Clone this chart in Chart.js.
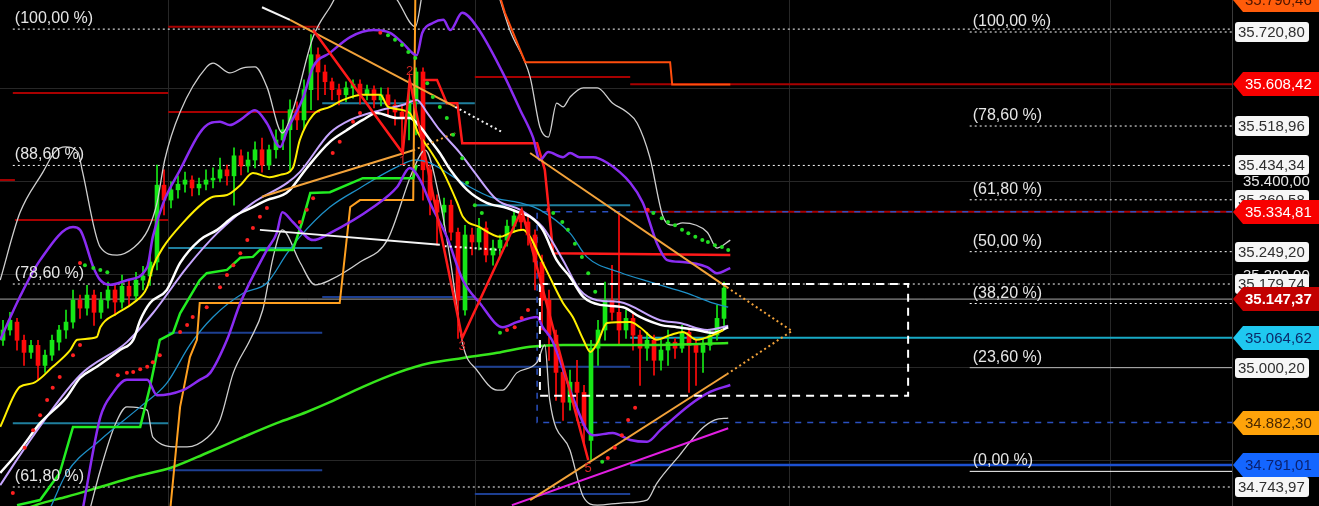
<!DOCTYPE html>
<html><head><meta charset="utf-8">
<script src="https://cdn.jsdelivr.net/npm/chart.js@4.4.1/dist/chart.umd.min.js"></script>
<style>html,body{margin:0;padding:0;background:#000;overflow:hidden}canvas{display:block}</style>
</head><body>
<canvas id="c" width="1319" height="506" style="width:1319px;height:506px"></canvas>
<script>
// ---------- candles ----------
const open = [35059,35081,35098,35059,35033,35048,35005,35027,35055,35081,
35098,35145,35128,35156,35119,35145,35167,35141,35175,35154,
35188,35197,35227,35392,35360,35382,35394,35403,35386,35394,
35403,35407,35425,35412,35455,35433,35446,35468,35435,35468,
35489,35511,35554,35532,35597,35672,35635,35614,35597,35586,
35601,35609,35586,35597,35575,35586,35564,35549,35536,35575,
35635,35425,35360,35334,35349,35291,35124,35285,35270,35300,
35242,35257,35274,35304,35326,35313,35285,35227,35145,35070,
34990,34926,34969,34947,34844,35042,35081,35145,35119,35081,
35106,35070,35042,35059,35016,35038,35055,35042,35076,35048,
35033,35048,35070,35106];
const high = [35102,35119,35106,35070,35059,35059,35038,35070,35091,35124,
35167,35156,35177,35167,35162,35184,35177,35199,35188,35205,
35218,35242,35435,35425,35399,35412,35420,35412,35407,35425,
35429,35450,35435,35472,35468,35463,35485,35493,35478,35511,
35532,35575,35571,35618,35715,35687,35650,35622,35609,35614,
35618,35618,35607,35605,35601,35601,35575,35566,35618,35644,
35644,35435,35371,35364,35360,35300,35306,35300,35321,35313,
35274,35285,35317,35339,35339,35328,35296,35242,35167,35081,
35005,34995,35016,34962,35059,35102,35184,35220,35332,35124,
35119,35081,35076,35070,35059,35081,35063,35091,35085,35059,
35063,35081,35134,35184];
const low = [35048,35070,35038,35005,35020,34973,34990,35016,35038,35063,
35085,35106,35113,35091,35106,35128,35113,35128,35134,35145,
35167,35177,35210,35328,35343,35364,35377,35369,35371,35382,
35386,35399,35392,35349,35414,35420,35429,35420,35425,35450,
35468,35425,35511,35511,35554,35575,35586,35575,35564,35571,
35579,35566,35575,35558,35562,35543,35521,35461,35489,35500,
35360,35328,35263,35306,35274,35063,35113,35242,35253,35227,
35220,35242,35261,35291,35296,35263,35167,35081,35016,34930,
34887,34909,34887,34833,34802,35005,35059,35102,35048,35063,
35038,34962,35016,34984,34995,35005,35020,35033,34947,34962,
34990,35038,35059,35091];
const close = [35081,35102,35059,35033,35048,35005,35027,35059,35081,35098,
35145,35128,35156,35119,35145,35167,35141,35175,35154,35188,
35197,35227,35392,35360,35382,35394,35403,35386,35394,35403,
35407,35425,35412,35455,35433,35446,35468,35435,35468,35489,
35511,35554,35532,35597,35672,35635,35614,35597,35586,35601,
35609,35586,35597,35575,35586,35564,35549,35536,35575,35635,
35425,35360,35334,35349,35291,35145,35285,35270,35300,35242,
35257,35274,35304,35326,35313,35285,35227,35145,35070,34990,
34926,34969,34947,34876,35042,35081,35145,35119,35081,35106,
35070,35042,35059,35016,35038,35055,35042,35076,35048,35033,
35048,35070,35106,35171];

// ---------- indicator lines (x = bar index, y = price) ----------
const bbUpX = [-0.4,2.4,5.7,7.4,8.9,10.7,11.3,13.9,16.3,18.6,20.7,22,23.1,25.3,29.1,30,32.4,34.3,36,37.7,39.9,41.4,44.3,46.7,48.9,54.6,56.3,58.9,60.3,70.3,71,72.4,75.3,76.7,77.9,79.1,80,81,82.9,84.9,87.1,89.1,90.6,92.4,94.3,95.7,97.1,100.6,102,103.9];
const bbUpY = [35188,35332,35420,35463,35474,35463,35425,35259,35242,35257,35296,35354,35446,35549,35646,35654,35633,35644,35646,35603,35504,35553,35710,35774,35822,35822,35790,35732,35822,35822,35790,35725,35624,35517,35495,35568,35560,35581,35601,35601,35568,35549,35525,35452,35324,35306,35311,35291,35257,35274];
const bbLoX = [12.4,13.9,16,17.7,20.6,21.4,24.9,26.3,29.1,31,32.9,35.3,37.1,38.6,39.9,42.4,44.6,46.7,51,54.9,58.6,60.3,62.4,63.9,65.7,67.7,70.6,71.4,73.4,76.3,77.4,78.1,81,82.9,84.9,88.6,92,93.4,96.7,99.6,101.7,103.6];
const bbLoY = [34695,34780,34877,34916,34909,34851,34830,34830,34849,34888,34989,35060,35124,35238,35296,35227,35178,35188,35227,35274,35425,35467,35360,35231,35049,34995,34952,34952,34989,35012,35049,34931,34823,34723,34705,34710,34716,34752,34813,34866,34888,34892];
const purpUpX = [-0.4,2.4,5.3,10,11,12.9,13.9,15.3,17.7,20.6,21.4,22.9,25.3,28.1,29.6,31,32.4,33.9,36,37.7,39.6,40.6,42.9,44.3,46.7,49.6,52.9,55.3,57.1,59.1,59.9,61.4,62.9,63.9,65.6,67.7,71.4,73.9,75.7,76.7,77.9,80,81,82.4,84.3,86.3,89.6,91.4,93.4,94.9,97.1,100.6,102,103.9];
const purpUpY = [35060,35152,35231,35302,35296,35216,35188,35178,35188,35216,35281,35354,35425,35504,35525,35528,35521,35532,35553,35525,35474,35510,35581,35646,35676,35710,35725,35719,35697,35671,35719,35740,35747,35725,35762,35732,35633,35553,35495,35446,35463,35452,35461,35452,35452,35440,35397,35354,35268,35231,35227,35216,35203,35214];
const purpLoX = [11.4,13.9,15.7,17.7,20.6,22,25.7,28.1,29.6,32,33.9,37.7,39.1,39.9,41.4,44.3,46.7,52.9,56.3,58.1,59.6,61,63.4,65.7,68.1,71.4,73.4,76.3,77.1,78.4,81.4,83.4,84.3,87.1,89.6,92,93.9,98.1,101,103.9];
const purpLoY = [34697,34894,34946,34974,34974,34941,34952,34974,34989,35060,35139,35253,35289,35334,35313,35274,35289,35345,35388,35429,35403,35354,35281,35188,35139,35087,35098,35109,35087,35060,34937,34866,34855,34860,34845,34841,34866,34920,34948,34963];
const yellowX = [-0.4,2.4,4.3,7.1,9.6,10.6,13.4,13.9,16.3,18.6,20.6,21.4,22.9,25.7,28.6,30,32,33.9,35.7,38.1,39.6,41.4,42.4,44.3,46.7,48.6,51.4,53.9,55,58.1,59.3,61,62.9,64.9,65.7,68.1,71,72.4,74.3,75.3,76.7,78.1,80,81.4,82.9,83.9,84.9,86.3,89.6,91,93.4,95.3,97.1,99.1,101.4,102.9];
const yellowY = [34873,34959,34967,35002,35038,35060,35066,35087,35117,35139,35173,35216,35259,35311,35354,35367,35371,35392,35418,35409,35414,35429,35489,35543,35560,35575,35586,35586,35560,35547,35504,35467,35420,35354,35324,35302,35281,35289,35296,35281,35238,35195,35139,35109,35060,35034,35053,35096,35098,35087,35060,35070,35077,35060,35070,35081];
const whiteMaX = [-0.4,2.4,5.3,9.1,11,13.4,16.7,18.6,19.6,21,23.4,25.3,28.1,30.6,32.9,35.7,37.7,40,41,42.4,43.4,46.7,49.1,51.4,53.4,56.3,58.1,59.6,61,62.4,63.9,66.3,69.1,72,73.9,75.3,77.1,79.1,81,82.9,85.3,88.6,91,93.9,96.3,99.1,101.4,103.6];
const whiteMaY = [34774,34823,34881,34937,34978,35002,35038,35060,35102,35139,35167,35225,35274,35296,35324,35345,35360,35371,35382,35409,35429,35485,35510,35532,35547,35536,35536,35517,35489,35461,35425,35382,35354,35343,35332,35324,35296,35231,35195,35152,35135,35130,35109,35092,35087,35081,35075,35087];
const lilacX = [-0.4,3.4,11,17.7,21.4,26.3,30.6,35.7,40.6,42.4,46.7,49.6,53.9,57.1,59.1,60.6,62.4,65.3,67.1,70.6,73.9,77.1,80,82.4,84.9,88.1,93.9,96.7,100.6,103.6];
const lilacY = [34748,34834,34984,35055,35117,35216,35289,35354,35397,35420,35504,35532,35553,35564,35575,35547,35510,35461,35425,35360,35339,35302,35231,35167,35145,35141,35102,35096,35081,35090];
const thinBlueX = [6.7,9.1,13.9,19.6,23.4,26.7,30,34.3,37.7,40.6,42.4,46.7,51,56,58.9,61,63.9,66.7,69.6,73.9,76.7,81,83.4,88.1,92.9,97.7,101,103.6];
const thinBlueY = [34697,34774,34845,34916,34967,35049,35109,35160,35182,35246,35281,35345,35386,35429,35446,35440,35414,35388,35367,35354,35339,35289,35238,35205,35182,35160,35141,35130];
const greenStepX = [2,5.3,8.1,10,19.6,21,22.4,24.3,25.3,28.1,29.1,32,33.9,35.7,36.7,41.4,42.7,43.9,46.7,51.4,58.6,59.1];
const greenStepY = [34705,34716,34774,34873,34873,34959,35060,35075,35117,35188,35203,35210,35236,35238,35253,35253,35311,35375,35377,35407,35407,35435];
const longMaX = [3.1,5.7,9.1,13.9,18.6,24.3,29.1,34.3,39.1,43.4,46.7,51.4,56.3,61,65.7,70.6,75.3,80,93.9,103.6];
const longMaY = [34697,34710,34723,34744,34765,34787,34817,34851,34881,34905,34926,34959,34989,35010,35021,35032,35045,35049,35049,35053];
const orangeStepX = [23.9,25.3,26.7,27.7,28.1,48.1,49.6,51,58.6,58.9,59.1];
const orangeStepY = [34697,34916,35023,35060,35139,35139,35345,35360,35360,35790,35811];
const redOrangeStepX = [70.7,71.7,74.6,95.3,95.6,103.9];
const redOrangeStepY = [35811,35762,35656,35656,35608,35608];
const redStepX = [60,62,63.4,64.9,65.6,76.3,77.4,78.6,103.9];
const redStepY = [35618,35618,35568,35568,35482,35482,35425,35246,35242];
const zigzagX = [44.3,57.1,58.1,65.6,74.1,83.6];
const zigzagY = [35725,35461,35618,35064,35339,34802];
const zigzagTags = ['', '1', '2', '3', '', '5'];

// trend lines [x0, x1], [p0, p1]
const trendOrangeA = [[41, 64.6], [35747, 35560]];
const trendOrangeB = [[37, 58.6], [35367, 35467]];
const trendOrangeBExt = [[58.6, 64.6], [35467, 35504]];
const trendOrangeC = [[75.3, 103.4], [35461, 35173]];
const trendOrangeCExt = [[103.4, 112.7], [35173, 35079]];
const trendOrangeD = [[75.3, 103.4], [34716, 34986]];
const trendOrangeDExt = [[103.4, 112.7], [34986, 35079]];
const trendWhiteA = [[37, 41], [35774, 35747]];
const trendWhiteAExt = [[64.6, 71.3], [35560, 35506]];
const trendWhiteB = [[36.7, 62.4], [35296, 35264]];
const trendWhiteBExt = [[63.1, 71], [35261, 35253]];
const trendMagenta = [[72.7, 103.6], [34705, 34870]];

// parabolic SAR dots
const sarRedX = [1.4,3.1,4.3,5.3,6.3,7.1,8.1,10,11,11,16.4,17.7,18.6,19.6,20.6,21.4,22.4,25.3,26.3,27.1,29.1,31,32,32.9,33.9,34.9,35.7,36.7,37.7,42.4,43.4,44.3,47.1,48.1,50,51,53.9,72,73.1,74.1,75,77.9,86.4,87.4,88.4,89.3,90.3,92.1];
const sarRedY = [34731,34828,34866,34898,34931,34957,34980,35027,35049,35225,34984,34989,34991,34997,35002,35012,35027,35077,35092,35109,35130,35173,35199,35220,35246,35274,35300,35324,35343,35313,35339,35364,35461,35485,35528,35547,35719,35081,35087,35107,35124,35339,34806,34828,34855,34888,34914,35339];
const sarGreenX = [11.7,12.9,13.9,14.9,55,56,57,57.9,58.9,60.6,61.4,62.4,63.4,64.3,65.6,66.3,67.4,68.4,71,78.6,79.9,80.7,81.7,82.7,83.6,84.6,85.6,92.9,94.1,95,96,97,97.9,98.9,99.9,100.7,101.7,102.7,103.6];
const sarGreenY = [35220,35214,35210,35205,35714,35704,35693,35678,35665,35611,35581,35560,35536,35500,35450,35397,35349,35332,35075,35332,35313,35296,35266,35238,35203,35163,34798,35332,35321,35313,35306,35296,35289,35281,35274,35270,35263,35259,35253];

// horizontal levels: [price, fromBar, toBar]
const darkRedLevels = [[35732,23.6,45.3],[35590,1.4,23.6],[35549,23.6,45.3],[35317,1.7,23.6],[35403,-0.5,1.7],[35624,67.4,89.6],[35608.42,89.6,175.6],[35334.81,89.6,175.6]];
const tealLevels = [[35568,45.6,67.4],[35257,23.6,45.6],[34881,1.4,23.6],[35349,67.4,89.6]];
const cyanLevels = [[35064.62,89.6,175.6]];
const navyLevels = [[35075,23.6,45.6],[34780,23.6,45.6],[35152,45.6,67.4],[35002,67.4,89.6],[34729,67.4,89.6]];
const blueLevels = [[34791.01,89.6,175.6]];
const lastPrice = 35147.37;
const navyBoxX = [175.6, 76.3, 76.3, 175.6];
const navyBoxY = [35334.81, 35334.81, 34882.30, 34882.30];
const whiteBoxX = [76.7, 129.3, 129.3, 76.7, 76.7];
const whiteBoxY = [35180, 35180, 34940, 34940, 35180];

// Fibonacci
const fibLeftPct = ['100,00', '88,60', '78,60', '61,80'];
const fibLeftVal = [35727, 35434.34, 35179.74, 34743.97];
const fibLeftFrom = 1.4;
const fibRightPct = ['100,00', '78,60', '61,80', '50,00', '38,20', '23,60', '0,00'];
const fibRightVal = [35720.80, 35518.96, 35360.58, 35249.20, 35137.9, 35000.20, 34777.6];
const fibRightFrom = 138.1;
const chartEnd = 175.6;

// axis
const gridX = [23.6, 67.4, 112.3, 158.1];
const gridY = [34800, 35000, 35200, 35400, 35600];
const axisVals = [35790.46, 35720.80, 35608.42, 35518.96, 35434.34, 35400.00, 35360.58, 35334.81, 35249.20, 35200.00, 35179.74, 35147.37, 35064.62, 35000.20, 34882.30, 34791.01, 34743.97];
const axisKinds = ['orange','box','red','box','box','plain','box','red','box','plain','box','last','cyan','box','amber','blue','box'];

// ---------- build ----------
const GREEN = '#16e616', RED = '#ff0a0a';
const pts = (xs, ys) => xs.map((x, i) => ({ x, y: ys[i] }));
const datasets = [];
function addLine(data, color, width, order, extra) {
  datasets.push(Object.assign({ type: 'line', data, borderColor: color, backgroundColor: color,
    borderWidth: width, pointRadius: 0, pointHoverRadius: 0, fill: false, tension: 0, order }, extra || {}));
}
const smooth = { cubicInterpolationMode: 'monotone' };
const dotted = { borderDash: [2, 3] };
function levels(arr, color, width, order, extra) {
  arr.forEach(l => addLine([{ x: l[1], y: l[0] }, { x: l[2], y: l[0] }], color, width, order, extra));
}

// background levels
levels(darkRedLevels, '#a80000', 2, 90);
levels(tealLevels, '#1f7f9e', 2, 90);
levels(cyanLevels, '#17a9c4', 2, 90);
levels(navyLevels, '#1d3f92', 2, 90);
levels(blueLevels, '#1c50d0', 2.5, 90);
addLine([{ x: -0.5, y: lastPrice }, { x: chartEnd, y: lastPrice }], '#a8a8a8', 1, 89);
addLine(pts(navyBoxX, navyBoxY), '#2a50c0', 1.5, 88, { borderDash: [6, 6] });
fibLeftVal.forEach(v => addLine([{ x: fibLeftFrom, y: v }, { x: chartEnd, y: v }], '#ffffff', 1, 87, dotted));
fibRightVal.forEach((v, i) => {
  const p = fibRightPct[i];
  const style = p === '23,60' ? ['#b8b8b8', {}] : p === '0,00' ? ['#ffffff', {}] : ['#ffffff', dotted];
  addLine([{ x: fibRightFrom, y: v }, { x: chartEnd, y: v }], style[0], 1, 87, style[1]);
});

// candles
const up = close.map((c, i) => c >= open[i]);
datasets.push({ type: 'bar', data: open.map((o, i) => ({ x: i, y: [low[i], high[i]] })),
  backgroundColor: up.map(u => u ? GREEN : RED), barThickness: 1, grouped: false, order: 61 });
datasets.push({ type: 'bar', data: open.map((o, i) => ({ x: i, y: [o, close[i]] })),
  backgroundColor: up.map(u => u ? GREEN : RED), barThickness: 4, grouped: false, order: 60 });

// indicators
addLine(pts(longMaX, longMaY), '#36e61c', 2.5, 30, smooth);
addLine(pts(bbUpX, bbUpY), '#cfcfcf', 1.3, 29, smooth);
addLine(pts(bbLoX, bbLoY), '#cfcfcf', 1.3, 29, smooth);
addLine(pts(thinBlueX, thinBlueY), '#1e90c8', 1.3, 28, smooth);
addLine(pts(greenStepX, greenStepY), '#22ee22', 2.5, 27);
addLine(pts(orangeStepX, orangeStepY), '#ffa020', 2, 27);
addLine(pts(redOrangeStepX, redOrangeStepY), '#ff4d0d', 2, 27);
addLine(pts(redStepX, redStepY), '#ff1a1a', 2.5, 27);
addLine(pts(purpUpX, purpUpY), '#8a2cf2', 2.5, 26, smooth);
addLine(pts(purpLoX, purpLoY), '#8a2cf2', 2.5, 26, smooth);
addLine(pts(lilacX, lilacY), '#c7a6ff', 2, 25, smooth);
addLine(pts(whiteMaX, whiteMaY), '#ffffff', 2.5, 24, smooth);
addLine(pts(yellowX, yellowY), '#ffee00', 2, 23, smooth);

// trend lines
addLine(pts(trendMagenta[0], trendMagenta[1]), '#e21ee2', 2, 12);
addLine(pts(trendOrangeA[0], trendOrangeA[1]), '#f2a23a', 2, 11);
addLine(pts(trendOrangeB[0], trendOrangeB[1]), '#f2a23a', 2, 11);
addLine(pts(trendOrangeBExt[0], trendOrangeBExt[1]), '#f2a23a', 2, 11, { borderDash: [2, 3] });
addLine(pts(trendOrangeC[0], trendOrangeC[1]), '#f2a23a', 2, 11);
addLine(pts(trendOrangeCExt[0], trendOrangeCExt[1]), '#f2a23a', 2, 11, { borderDash: [2, 3] });
addLine(pts(trendOrangeD[0], trendOrangeD[1]), '#f2a23a', 2, 11);
addLine(pts(trendOrangeDExt[0], trendOrangeDExt[1]), '#f2a23a', 2, 11, { borderDash: [2, 3] });
addLine(pts(trendWhiteA[0], trendWhiteA[1]), '#f4f4f4', 2, 11);
addLine(pts(trendWhiteAExt[0], trendWhiteAExt[1]), '#f4f4f4', 2, 11, { borderDash: [2, 3] });
addLine(pts(trendWhiteB[0], trendWhiteB[1]), '#f4f4f4', 2, 11);
addLine(pts(trendWhiteBExt[0], trendWhiteBExt[1]), '#f4f4f4', 2, 11, { borderDash: [2, 3] });
addLine(pts(whiteBoxX, whiteBoxY), '#ffffff', 2, 10, { borderDash: [8, 6] });

// zigzag + SAR
addLine(pts(zigzagX, zigzagY), '#ff1a1a', 2.5, 5);
addLine(pts(sarRedX, sarRedY), '#ff2020', 0, 4, { showLine: false, pointRadius: 2, pointBackgroundColor: '#ff2020', pointBorderWidth: 0 });
addLine(pts(sarGreenX, sarGreenY), '#22dd22', 0, 4, { showLine: false, pointRadius: 2, pointBackgroundColor: '#22dd22', pointBorderWidth: 0 });

// ---------- plugins ----------
const FONT = '"Liberation Sans", Arial, sans-serif';
function fmt(v) {
  const s = v.toFixed(2).split('.');
  return s[0].replace(/\B(?=(\d{3})+(?!\d))/g, '.') + ',' + s[1];
}
const bgPlugin = {
  id: 'bg',
  beforeDraw(c) { const x = c.ctx; x.save(); x.fillStyle = '#000'; x.fillRect(0, 0, c.width, c.height); x.restore(); },
  beforeDatasetsDraw(c) {
    const ctx = c.ctx, xs = c.scales.x, a = c.chartArea;
    ctx.save(); ctx.strokeStyle = '#272727'; ctx.lineWidth = 1;
    gridX.forEach(v => { const px = Math.round(xs.getPixelForValue(v)) + 0.5; ctx.beginPath(); ctx.moveTo(px, a.top); ctx.lineTo(px, a.bottom); ctx.stroke(); });
    ctx.restore();
  }
};
const overlayPlugin = {
  id: 'overlay',
  afterDatasetsDraw(c) {
    const ctx = c.ctx, xs = c.scales.x, ys = c.scales.y;
    ctx.save();
    ctx.font = '16px ' + FONT; ctx.fillStyle = '#e6e6e6'; ctx.textBaseline = 'alphabetic'; ctx.textAlign = 'left';
    fibLeftVal.forEach((v, i) => ctx.fillText('(' + fibLeftPct[i] + ' %)', xs.getPixelForValue(fibLeftFrom) + 2, ys.getPixelForValue(v) - 6));
    fibRightVal.forEach((v, i) => ctx.fillText('(' + fibRightPct[i] + ' %)', xs.getPixelForValue(fibRightFrom) + 3, ys.getPixelForValue(v) - 6));
    ctx.font = '13px ' + FONT; ctx.fillStyle = '#d42424'; ctx.textAlign = 'center';
    zigzagTags.forEach((t, i) => {
      if (!t) return;
      const prev = zigzagY[i - 1], isLow = prev !== undefined && zigzagY[i] < prev;
      const px = xs.getPixelForValue(zigzagX[i]), py = ys.getPixelForValue(zigzagY[i]);
      ctx.textBaseline = isLow ? 'top' : 'bottom';
      ctx.fillText(t, px, isLow ? py + 2 : py - 2);
    });
    ctx.restore();
  },
  afterDraw(c) {
    const ctx = c.ctx, ys = c.scales.y, left = c.chartArea.right;
    const tagStyle = {
      orange: ['#ff5c0a', '#4a1400', false], red: ['#f80000', '#ffffff', false], last: ['#c20000', '#ffffff', true],
      cyan: ['#1fc8f0', '#0b2a6a', false], amber: ['#ffa30a', '#4a2800', false], blue: ['#1466ff', '#0a2270', false]
    };
    ctx.save();
    ctx.textBaseline = 'middle'; ctx.textAlign = 'left';
    ['plain', 'box', 'tag'].forEach(pass => {
      axisVals.forEach((v, i) => {
        const k = axisKinds[i], y = Math.round(ys.getPixelForValue(v)), txt = fmt(v);
        if (pass === 'plain' && k === 'plain') {
          ctx.font = '15px ' + FONT; ctx.fillStyle = '#e8e8e8'; ctx.fillText(txt, left + 11, y + 1);
        } else if (pass === 'box' && k === 'box') {
          ctx.fillStyle = '#f6f6f6'; ctx.beginPath(); ctx.roundRect(left + 3, y - 10, 74, 20, 3); ctx.fill();
          ctx.font = '15px ' + FONT; ctx.fillStyle = '#2e2e2e'; ctx.fillText(txt, left + 6, y + 1);
        } else if (pass === 'tag' && tagStyle[k]) {
          const st = tagStyle[k], h = 24;
          ctx.fillStyle = st[0]; ctx.beginPath();
          ctx.moveTo(left + 1, y); ctx.lineTo(left + 11, y - h / 2); ctx.lineTo(c.width, y - h / 2);
          ctx.lineTo(c.width, y + h / 2); ctx.lineTo(left + 11, y + h / 2); ctx.closePath(); ctx.fill();
          ctx.font = (st[2] ? 'bold ' : '') + '15px ' + FONT; ctx.fillStyle = st[1]; ctx.fillText(txt, left + 13, y + 1);
        }
      });
    });
    ctx.restore();
  }
};

new Chart(document.getElementById('c'), {
  type: 'bar',
  data: { datasets },
  options: {
    responsive: false, animation: false, devicePixelRatio: 1, events: [],
    layout: { padding: 0, autoPadding: false },
    plugins: { legend: { display: false }, tooltip: { enabled: false } },
    scales: {
      x: { type: 'linear', display: false, min: -0.43, max: 175.57, offset: false },
      y: { type: 'linear', position: 'right', min: 34703.2, max: 35789.5,
        grid: { color: '#272727', drawTicks: false, lineWidth: 1 }, border: { display: true, color: '#3a3a3a' },
        ticks: { display: false },
        afterBuildTicks: s => { s.ticks = gridY.map(v => ({ value: v })); },
        afterFit: s => { s.width = 87; } }
    }
  },
  plugins: [bgPlugin, overlayPlugin]
});
</script>
</body></html>
